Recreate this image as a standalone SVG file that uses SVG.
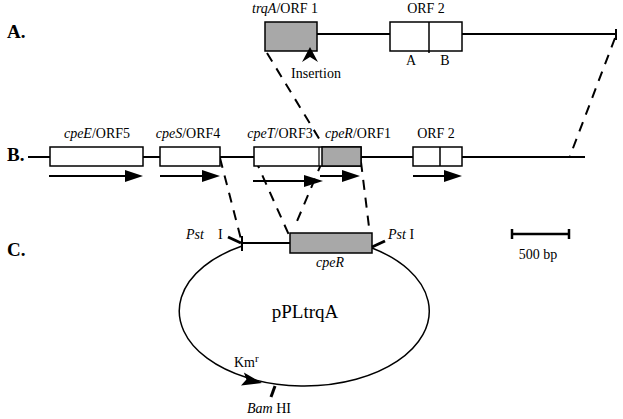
<svg xmlns="http://www.w3.org/2000/svg" width="623" height="419" viewBox="0 0 623 419">
<style>
text{font-family:"Liberation Serif","Times New Roman",serif;fill:#000;font-size:14px}
.lab{font-weight:bold;font-size:19px}
.it{font-style:italic}
.bb{stroke:#000;stroke-width:2;fill:none}
.box{fill:#fff;stroke:#000;stroke-width:1.5}
.gray{fill:#a8a8a8;stroke:#000;stroke-width:1.5}
.dash{stroke:#000;stroke-width:2;stroke-dasharray:10 8;fill:none}
.arr{stroke:#000;stroke-width:2;fill:none}
.head{fill:#000;stroke:none}
.mid{text-anchor:middle}
</style>
<rect width="623" height="419" fill="#fff"/>

<!-- Section labels -->
<text class="lab" x="7" y="38">A.</text>
<text class="lab" x="7" y="161">B.</text>
<text class="lab" x="7" y="256">C.</text>

<!-- Backbones and connectors -->
<g id="connectors">
  <line class="bb" x1="317" y1="34" x2="616" y2="34"/>
  <line class="bb" x1="616" y1="29" x2="616" y2="40"/>
  <line class="bb" x1="28" y1="157" x2="585" y2="157"/>
  <line class="dash" x1="267" y1="53" x2="323" y2="145"/>
  <line class="dash" x1="615" y1="38" x2="570" y2="156"/>
  <line class="dash" x1="220" y1="158" x2="242" y2="243"/>
  <line class="dash" x1="255" y1="159" x2="289" y2="235"/>
  <line class="dash" x1="322" y1="162" x2="295" y2="226"/>
  <line class="dash" x1="361" y1="162" x2="370" y2="235"/>
</g>

<!-- Row A -->
<g id="trqA">
  <rect class="gray" x="265" y="22" width="52" height="29"/>
  <text class="mid" x="285" y="13"><tspan class="it">trqA</tspan>/ORF 1</text>
</g>
<g id="insertion">
  <path class="head" d="M310 47 L318 62 L310 57 L302 62 Z"/>
  <text class="mid" x="316" y="78">Insertion</text>
</g>
<g id="orf2A">
  <rect class="box" x="390" y="22" width="72" height="29"/>
  <line x1="429" y1="22" x2="429" y2="53" stroke="#000" stroke-width="1.5"/>
  <text class="mid" x="426" y="13">ORF 2</text>
  <text class="mid" x="411" y="65">A</text>
  <text class="mid" x="445" y="65">B</text>
</g>

<!-- Row B -->
<g id="cpeE">
  <rect class="box" x="50" y="147" width="93" height="19"/>
  <text class="mid" x="97" y="138"><tspan class="it">cpeE</tspan>/ORF5</text>
  <line class="arr" x1="49" y1="176" x2="128" y2="176"/>
  <path class="head" d="M143 176 L125 170 L125 182 Z"/>
</g>
<g id="cpeS">
  <rect class="box" x="160" y="147" width="60" height="19"/>
  <text class="mid" x="188" y="138"><tspan class="it">cpeS</tspan>/ORF4</text>
  <line class="arr" x1="160" y1="176" x2="204" y2="176"/>
  <path class="head" d="M220 176 L202 170 L202 182 Z"/>
</g>
<g id="cpeT">
  <rect class="box" x="254" y="147" width="107" height="19"/>
  <line x1="319" y1="147" x2="319" y2="166" stroke="#000" stroke-width="1.2"/>
  <text class="mid" x="280" y="138"><tspan class="it">cpeT</tspan>/ORF3</text>
  <line class="arr" x1="253" y1="181" x2="307" y2="181"/>
  <path class="head" d="M323 181 L304 175 L304 187 Z"/>
</g>
<g id="cpeR">
  <rect class="gray" x="322" y="147" width="39" height="19"/>
  <text class="mid" x="358" y="138"><tspan class="it">cpeR</tspan>/ORF1</text>
  <line class="arr" x1="320" y1="176" x2="344" y2="176"/>
  <path class="head" d="M360 176 L342 170 L342 182 Z"/>
</g>
<g id="orf2B">
  <rect class="box" x="413" y="147" width="49" height="19"/>
  <line x1="440" y1="147" x2="440" y2="166" stroke="#000" stroke-width="1.5"/>
  <text class="mid" x="436" y="138">ORF 2</text>
  <line class="arr" x1="413" y1="176" x2="446" y2="176"/>
  <path class="head" d="M462 176 L444 170 L444 182 Z"/>
</g>

<!-- Scale bar -->
<g id="scale">
  <line x1="512" y1="234" x2="569" y2="234" stroke="#000" stroke-width="2.5"/>
  <line x1="512" y1="229" x2="512" y2="239" stroke="#000" stroke-width="2.5"/>
  <line x1="569" y1="229" x2="569" y2="239" stroke="#000" stroke-width="2.5"/>
  <text class="mid" x="538" y="259">500 bp</text>
</g>

<!-- Row C: plasmid -->
<g id="plasmid">
  <path d="M242 246 A125 75 0 1 0 372 248" fill="none" stroke="#000" stroke-width="1.5"/>
  <line class="bb" x1="242" y1="243" x2="290" y2="243"/>
  <line x1="242" y1="236" x2="242" y2="251" stroke="#000" stroke-width="2"/>
  <text class="mid" x="305" y="318" style="font-size:19px">pPLtrqA</text>
</g>
<g id="cpeRC">
  <rect class="gray" x="290" y="233" width="82" height="20"/>
  <text class="mid it" x="330" y="267">cpeR</text>
</g>
<g id="pstI-left">
  <text x="186" y="239"><tspan class="it">Pst</tspan></text>
  <text x="218" y="239">I</text>
  <line x1="228" y1="237" x2="241" y2="243" stroke="#000" stroke-width="3"/>
</g>
<g id="pstI-right">
  <text x="388" y="239"><tspan class="it">Pst</tspan> I</text>
  <line x1="372" y1="247" x2="385" y2="241" stroke="#000" stroke-width="3"/>
</g>
<g id="kmr">
  <path class="head" d="M262 383 L241 385.5 L246.4 379.6 L243.9 372.4 Z"/>
  <text x="234" y="367">Km<tspan dy="-5" style="font-size:11px">r</tspan></text>
</g>
<g id="bamHI">
  <line x1="275" y1="386" x2="271" y2="397" stroke="#000" stroke-width="3"/>
  <text x="247" y="413"><tspan class="it">Bam</tspan> HI</text>
</g>
</svg>
